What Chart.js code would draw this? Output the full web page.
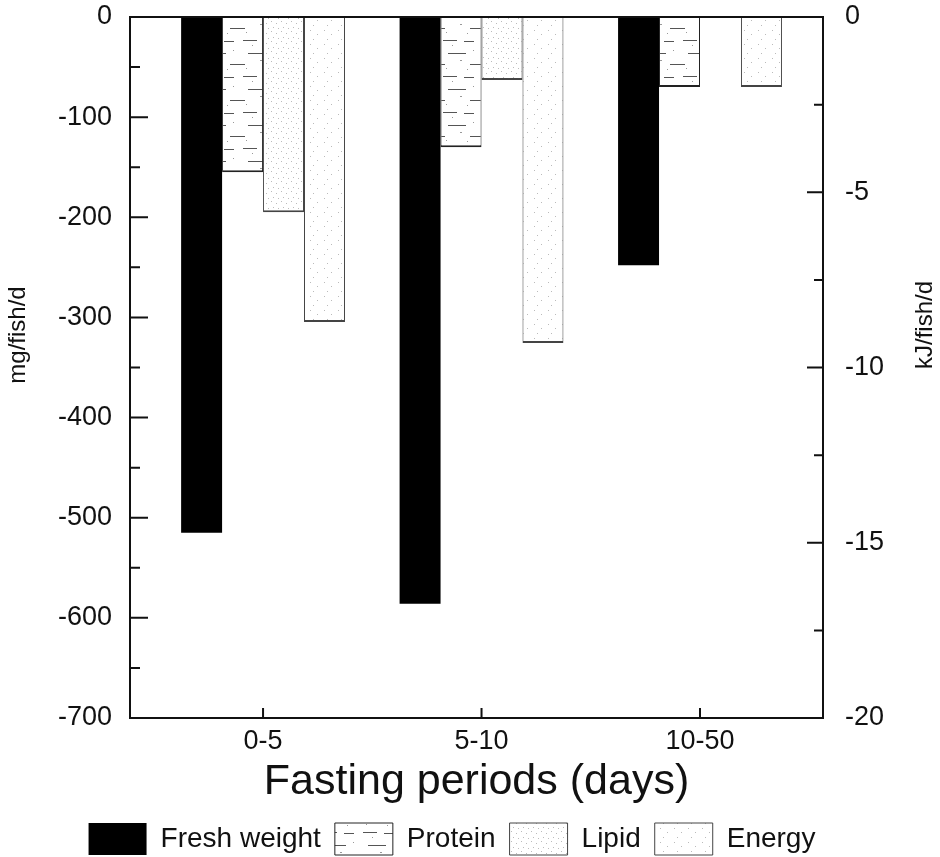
<!DOCTYPE html>
<html>
<head>
<meta charset="utf-8">
<script src="https://cdn.jsdelivr.net/npm/chart.js@4.4.0/dist/chart.umd.min.js"></script>
<style>
  html, body { margin: 0; padding: 0; background: #fff; }
  #wrap { width: 940px; height: 857px; }
</style>
</head>
<body>
<div id="wrap"><canvas id="chart"></canvas></div>
<script>
// data (mg/fish/d on the left axis, kJ/fish/d on the right)
const periods = ['0-5', '5-10', '10-50'];
const freshWeight = [-515, -586, -248];
const protein = [-155, -130, -70];
const lipid = [-195, -63, 0];
const energy = [-8.7, -9.3, -2.0];

const mgTicks = [0, -100, -200, -300, -400, -500, -600, -700];
const kjTicks = [0, -5, -10, -15, -20];

const PAD_BOTTOM = -8;
const PLOT_BOTTOM = 718;

function makePattern(w, h, draw) {
    const c = document.createElement('canvas');
    c.width = w;
    c.height = h;
    const g = c.getContext('2d');
    g.fillStyle = '#fff';
    g.fillRect(0, 0, w, h);
    draw(g);
    return g.createPattern(c, 'repeat');
}

const proteinFill = makePattern(40, 36, g => {
    g.fillStyle = '#555';
    g.fillRect(3, 4, 14, 1);
    g.fillRect(24, 5, 10, 1);
    g.fillRect(8, 17, 18, 1);
    g.fillRect(30, 28, 10, 1);
    g.fillRect(0, 28, 5, 1);
    g.fillStyle = '#999';
    g.fillRect(12, 9, 1, 1);
    g.fillRect(33, 14, 1, 1);
    g.fillRect(20, 24, 2, 1);
    g.fillRect(6, 32, 1, 1);
    g.fillRect(27, 33, 1, 1);
});

const lipidFill = makePattern(10, 10, g => {
    g.fillStyle = '#bbb';
    g.fillRect(1, 1, 1, 1);
    g.fillRect(6, 3, 1, 1);
    g.fillRect(3, 7, 1, 1);
    g.fillRect(8, 8, 1, 1);
});

const energyFill = makePattern(14, 14, g => {
    g.fillStyle = '#bbb';
    g.fillRect(2, 2, 1, 1);
    g.fillRect(9, 6, 1, 1);
    g.fillRect(5, 11, 1, 1);
});

function points(values) {
    return values.map((v, i) => ({ x: i, y: v }));
}

const edge = { left: 1, right: 1, bottom: 2, top: 0 };

// inward tick marks, frame and the two rotated axis titles
const frame = {
    id: 'frame',
    afterDraw(chart) {
        const { ctx, chartArea: a, scales } = chart;
        ctx.save();
        ctx.strokeStyle = '#111';
        ctx.lineWidth = 2;
        ctx.strokeRect(a.left, a.top, a.right - a.left, a.bottom - a.top);

        ctx.beginPath();
        mgTicks.forEach((v, i) => {
            const y = scales.y.getPixelForValue(v);
            ctx.moveTo(a.left, y); ctx.lineTo(a.left + 18, y);
            if (i < mgTicks.length - 1) {
                const ym = scales.y.getPixelForValue((v + mgTicks[i + 1]) / 2);
                ctx.moveTo(a.left, ym); ctx.lineTo(a.left + 10, ym);
            }
        });
        kjTicks.forEach((v, i) => {
            const y = scales.y2.getPixelForValue(v);
            ctx.moveTo(a.right, y); ctx.lineTo(a.right - 16, y);
            if (i < kjTicks.length - 1) {
                const ym = scales.y2.getPixelForValue((v + kjTicks[i + 1]) / 2);
                ctx.moveTo(a.right, ym); ctx.lineTo(a.right - 9, ym);
            }
        });
        periods.forEach((p, i) => {
            const x = scales.x.getPixelForValue(i);
            ctx.moveTo(x, a.bottom); ctx.lineTo(x, a.bottom - 10);
        });
        ctx.stroke();

        ctx.fillStyle = '#111';
        ctx.font = "24px 'Liberation Sans', Arial, sans-serif";
        ctx.textAlign = 'center';
        ctx.textBaseline = 'middle';
        ctx.translate(18, 335);
        ctx.rotate(-Math.PI / 2);
        ctx.fillText('mg/fish/d', 0, 0);
        ctx.setTransform(1, 0, 0, 1, 0, 0);
        ctx.translate(925, 325);
        ctx.rotate(-Math.PI / 2);
        ctx.fillText('kJ/fish/d', 0, 0);
        ctx.restore();
    }
};

Chart.defaults.font.family = "'Liberation Sans', Arial, sans-serif";
Chart.defaults.color = '#111';

new Chart(document.getElementById('chart'), {
    type: 'bar',
    data: {
        datasets: [
            {
                label: 'Fresh weight',
                data: points(freshWeight),
                backgroundColor: '#000',
                borderColor: '#000',
                borderWidth: 0,
                yAxisID: 'y'
            },
            {
                label: 'Protein',
                data: points(protein),
                backgroundColor: proteinFill,
                borderColor: '#222',
                borderWidth: edge,
                yAxisID: 'y'
            },
            {
                label: 'Lipid',
                data: points(lipid),
                backgroundColor: lipidFill,
                borderColor: '#444',
                borderWidth: edge,
                yAxisID: 'y'
            },
            {
                label: 'Energy',
                data: points(energy),
                backgroundColor: energyFill,
                borderColor: '#444',
                borderWidth: edge,
                yAxisID: 'y2'
            }
        ]
    },
    options: {
        responsive: true,
        maintainAspectRatio: false,
        animation: false,
        layout: { padding: { top: 17, left: 0, right: 36, bottom: PAD_BOTTOM } },
        datasets: {
            bar: { categoryPercentage: 0.75, barPercentage: 1 }
        },
        scales: {
            x: {
                type: 'linear',
                offset: false,
                min: -0.609,
                max: 2.563,
                afterBuildTicks: s => { s.ticks = periods.map((p, i) => ({ value: i })); },
                afterFit: s => {
                    const leg = s.chart.legend;
                    s.height = s.chart.height - PAD_BOTTOM - leg.height - PLOT_BOTTOM;
                },
                ticks: {
                    autoSkip: false,
                    maxRotation: 0,
                    padding: 7,
                    font: { size: 27 },
                    callback: v => periods[v]
                },
                grid: { display: false, drawTicks: false, offset: false },
                border: { display: false },
                title: {
                    display: true,
                    text: 'Fasting periods (days)',
                    font: { size: 43 },
                    padding: { top: 0, bottom: 1 }
                }
            },
            y: {
                position: 'left',
                min: -700,
                max: 0,
                afterBuildTicks: s => { s.ticks = mgTicks.map(v => ({ value: v })); },
                afterFit: s => { s.width = 130; },
                ticks: { padding: 0, font: { size: 27 } },
                // hidden tick length only spaces the labels off the axis
                grid: { display: false, drawTicks: true, tickLength: 18 },
                border: { display: false }
            },
            y2: {
                position: 'right',
                min: -20,
                max: 0,
                afterBuildTicks: s => { s.ticks = kjTicks.map(v => ({ value: v })); },
                afterFit: s => { s.width = 940 - 36 - 823; },
                ticks: { padding: 0, font: { size: 27 } },
                grid: { display: false, drawTicks: true, tickLength: 22 },
                border: { display: false }
            }
        },
        plugins: {
            legend: {
                position: 'bottom',
                labels: {
                    boxWidth: 58,
                    boxHeight: 32,
                    padding: 14,
                    font: { size: 28 },
                    color: '#111'
                }
            },
            tooltip: { enabled: false }
        }
    },
    plugins: [frame]
});
</script>
</body>
</html>
